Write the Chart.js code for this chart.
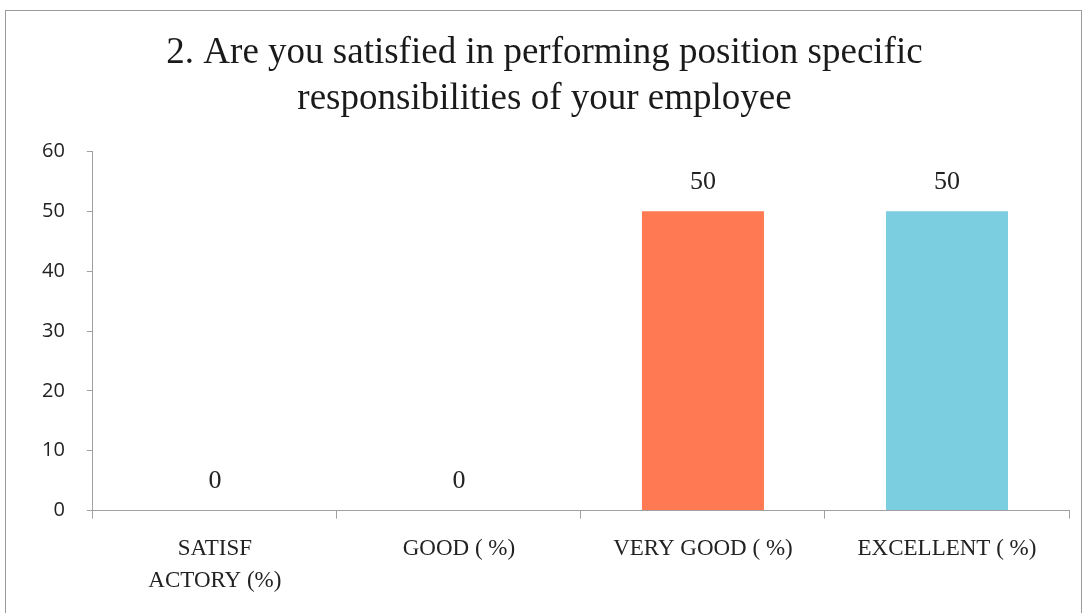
<!DOCTYPE html>
<html>
<head>
<meta charset="utf-8">
<script src="https://cdn.jsdelivr.net/npm/chart.js@4/dist/chart.umd.min.js"></script>
<style>
  body { margin: 0; background: #fff; }
  #frame { position: absolute; left: 5px; top: 10px; width: 1075px; height: 603px; border: 1px solid #9a9a9a; border-bottom: none; }
</style>
</head>
<body>
<div id="frame"><canvas id="chart" width="1075" height="603"></canvas></div>
<script>
const labels = [['SATISF', 'ACTORY (%)'], 'GOOD ( %)', 'VERY GOOD ( %)', 'EXCELLENT ( %)']
const values = [0, 0, 50, 50]
const barColors = ['rgb(255,122,82)', 'rgb(255,122,82)', 'rgb(255,122,82)', 'rgb(122,206,224)']
const titleLines = ['2. Are you satisfied in performing position specific', 'responsibilities of your employee']

const valueLabels = {
  id: 'valueLabels',
  afterDatasetsDraw(chart) {
    const ctx = chart.ctx
    const meta = chart.getDatasetMeta(0)
    ctx.save()
    ctx.font = '26px "Liberation Serif"'
    ctx.fillStyle = '#222'
    ctx.textAlign = 'center'
    ctx.textBaseline = 'bottom'
    meta.data.forEach((bar, i) => {
      ctx.fillText(String(values[i]), bar.x, bar.y - 16)
    })
    ctx.restore()
  }
}

new Chart(document.getElementById('chart'), {
  type: 'bar',
  data: {
    labels,
    datasets: [{
      data: values,
      backgroundColor: barColors,
      barPercentage: 0.5,
      categoryPercentage: 1
    }]
  },
  options: {
    responsive: false,
    animation: false,
    layout: { padding: { left: 14, right: 12, top: 0, bottom: 3 } },
    plugins: {
      legend: { display: false },
      tooltip: { enabled: false },
      title: {
        display: true,
        text: titleLines,
        color: '#1a1a1a',
        font: { family: 'Liberation Serif', size: 37, weight: 'normal', lineHeight: 1.25 },
        padding: { top: 19, bottom: 29 }
      }
    },
    scales: {
      y: {
        min: 0,
        max: 60,
        ticks: { stepSize: 10, color: '#222', font: { family: 'Open Sans', size: 20 }, padding: 22 },
        grid: { drawOnChartArea: false, tickLength: 6, color: '#a0a0a0' },
        border: { color: '#a0a0a0' }
      },
      x: {
        ticks: { color: '#222', font: { family: 'Liberation Serif', size: 23, lineHeight: 1.4 }, padding: 14, maxRotation: 0 },
        grid: { drawOnChartArea: false, tickLength: 8, color: '#a0a0a0', offset: true },
        border: { color: '#a0a0a0' }
      }
    }
  },
  plugins: [valueLabels]
})
</script>
</body>
</html>
